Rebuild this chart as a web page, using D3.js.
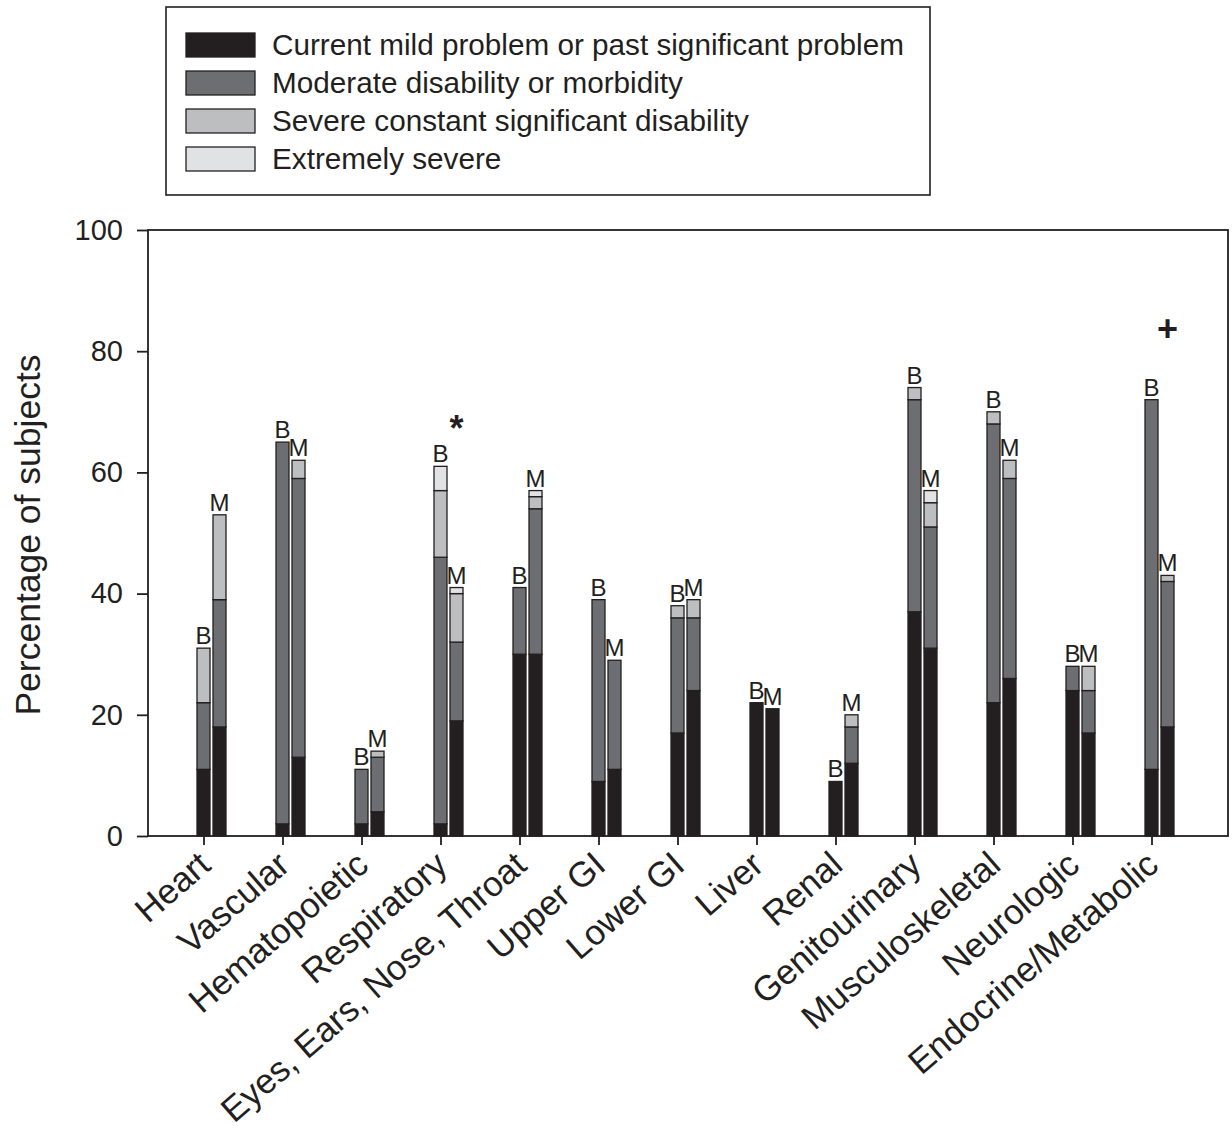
<!DOCTYPE html>
<html><head><meta charset="utf-8">
<script src="https://cdn.jsdelivr.net/npm/d3@7"></script>
<style>body{margin:0;background:#fff}svg{display:block}text{font-family:"Liberation Sans",Arial,Helvetica,sans-serif;fill:#231f20}</style>
</head><body>
<svg id="c" width="1232" height="1136"></svg>
<script>
const categories = ["Heart","Vascular","Hematopoietic","Respiratory","Eyes, Ears, Nose, Throat","Upper GI","Lower GI","Liver","Renal","Genitourinary","Musculoskeletal","Neurologic","Endocrine/Metabolic"];
const seriesNames = ["Current mild problem or past significant problem","Moderate disability or morbidity","Severe constant significant disability","Extremely severe"];
// B bars: [mild, moderate, severe, extreme]
const mildB     = [11, 2, 2, 2, 30, 9, 17, 22, 9, 37, 22, 24, 11];
const moderateB = [11,63, 9,44, 11,30, 19,  0, 0, 35, 46,  4, 61];
const severeB   = [ 9, 0, 0,11,  0, 0,  2,  0, 0,  2,  2,  0,  0];
const extremeB  = [ 0, 0, 0, 4,  0, 0,  0,  0, 0,  0,  0,  0,  0];
// M bars
const mildM     = [18,13, 4,19, 30,11, 24, 21,12, 31, 26, 17, 18];
const moderateM = [21,46, 9,13, 24,18, 12,  0, 6, 20, 33,  7, 24];
const severeM   = [14, 3, 1, 8,  2, 0,  3,  0, 2,  4,  3,  4,  1];
const extremeM  = [ 0, 0, 0, 1,  1, 0,  0,  0, 0,  2,  0,  0,  0];
const groupLabels = ["B","M"];
const yTicks = [0,20,40,60,80,100];
const annotations = [{cat:"Respiratory", text:"*", value:67.3},{cat:"Endocrine/Metabolic", text:"+", value:83.8}];

const colors = ["#231f20","#6d6e71","#bcbec0","#e1e2e3"];
const svg = d3.select("#c");
const L=148, R=1228, T=230, B=836;
const x = d3.scalePoint().domain(categories).range([203.5, 1151.5]);
const y = d3.scaleLinear().domain([0,100]).range([B,T]);
const bw = 13, off = 16;

// frame
svg.append("rect").attr("x",L).attr("y",T).attr("width",R-L).attr("height",B-T)
  .attr("fill","none").attr("stroke","#231f20").attr("stroke-width",1.8);

// y axis
const ya = svg.append("g").attr("transform",`translate(${L},0)`)
  .call(d3.axisLeft(y).tickValues(yTicks).tickSize(11).tickPadding(14));
ya.select(".domain").remove();
ya.selectAll("line").attr("stroke","#231f20").attr("stroke-width",1.8);
ya.selectAll("text").style("font-size","29px").attr("fill","#231f20");

// x axis
const xa = svg.append("g").attr("transform",`translate(0,${B})`)
  .call(d3.axisBottom(x).tickSize(9).tickFormat(""));
xa.select(".domain").remove();
xa.selectAll("line").attr("stroke","#231f20").attr("stroke-width",1.8);
categories.forEach(c=>{
  svg.append("text").attr("text-anchor","end")
    .attr("transform",`translate(${x(c)+9},${B+32}) rotate(-41)`)
    .style("font-size","35px").text(c);
});

// y label
svg.append("text").attr("text-anchor","middle")
  .attr("transform",`translate(40,535) rotate(-90)`)
  .style("font-size","35.5px").text("Percentage of subjects");

// bars
const groups = [[mildB,moderateB,severeB,extremeB],[mildM,moderateM,severeM,extremeM]];
groups.forEach((g,gi)=>{
  categories.forEach((c,i)=>{
    let acc=0;
    const cx = x(c) + gi*off;
    g.forEach((arr,si)=>{
      const v = arr[i];
      if(v>0){
        svg.append("rect").attr("x",cx-bw/2).attr("y",y(acc+v)).attr("width",bw)
          .attr("height",y(acc)-y(acc+v)).attr("fill",colors[si])
          .attr("stroke","#231f20").attr("stroke-width",1.3);
      }
      acc+=v;
    });
    svg.append("text").attr("x",cx).attr("y",y(acc)-4).attr("text-anchor","middle")
      .style("font-size","24px").text(groupLabels[gi]);
  });
});

// annotations
annotations.forEach(a=>{
  svg.append("text").attr("x",x(a.cat)+16).attr("y",y(a.value)).attr("text-anchor","middle")
    .attr("dominant-baseline","central")
    .style("font-size","36px").style("font-weight","bold").text(a.text);
});

// legend
svg.append("rect").attr("x",166).attr("y",7).attr("width",764).attr("height",188)
  .attr("fill","#fff").attr("stroke","#231f20").attr("stroke-width",1.6);
seriesNames.forEach((s,i)=>{
  const yy = 33 + i*38;
  svg.append("rect").attr("x",186).attr("y",yy).attr("width",69).attr("height",24)
    .attr("fill",colors[i]).attr("stroke","#231f20").attr("stroke-width",1.3);
  svg.append("text").attr("x",272).attr("y",yy+22).style("font-size","29.7px").text(s);
});
</script>
</body></html>
